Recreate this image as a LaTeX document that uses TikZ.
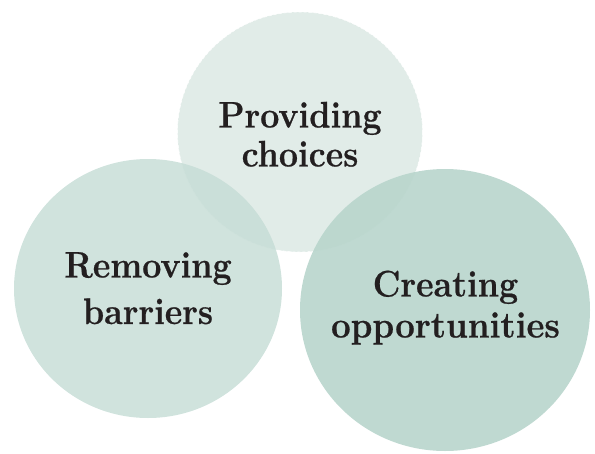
\documentclass[tikz,border=0pt]{standalone}
\usepackage{fontspec}
\newfontfamily\labelfont{Latin Modern Roman}[BoldFeatures={FakeBold=0.6}]
\begin{document}
\begin{tikzpicture}[x=1pt,y=-1pt,
  bubble/.style={draw=none},
  label/.style={text=inkdark, inner sep=0pt, anchor=base,
    font=\labelfont\fontsize{37}{42}\selectfont\bfseries},
]
\definecolor{topfill}{HTML}{E1ECE8}
\definecolor{leftfill}{RGB}{198,221,214}
\definecolor{rightfill}{RGB}{184,213,204}
\definecolor{inkdark}{HTML}{231F20}
\useasboundingbox (0,0) rectangle (595,453);

% three overlapping bubbles
\path[bubble, fill=topfill] (300,132) ellipse [x radius=122.5, y radius=120];
\draw[white, line width=0.5pt, dashed, dash pattern=on 3pt off 2pt]
  (300,132) ellipse [x radius=122.5, y radius=120];
\path[bubble, fill=leftfill, fill opacity=0.83] (148,288.5) ellipse [x radius=134, y radius=129.5];
\path[bubble, fill=rightfill, fill opacity=0.9] (445,310) ellipse [x radius=145, y radius=141];

% labels
\node[label] (prov1) at (300,127.5) {\scalebox{0.92}[1]{Providing}};
\node[label] (prov2) at (300,166.5) {\scalebox{0.92}[1]{choices}};
\node[label] (rem1) at (148,277.5) {\scalebox{0.92}[1]{Removing}};
\node[label] (rem2) at (148,324) {\scalebox{0.92}[1]{barriers}};
\node[label] (cre1) at (445.5,296.5) {\scalebox{0.92}[1]{Creating}};
\node[label] (cre2) at (445.5,337.5) {\scalebox{0.94}[1]{opportunities}};
\end{tikzpicture}
\end{document}
